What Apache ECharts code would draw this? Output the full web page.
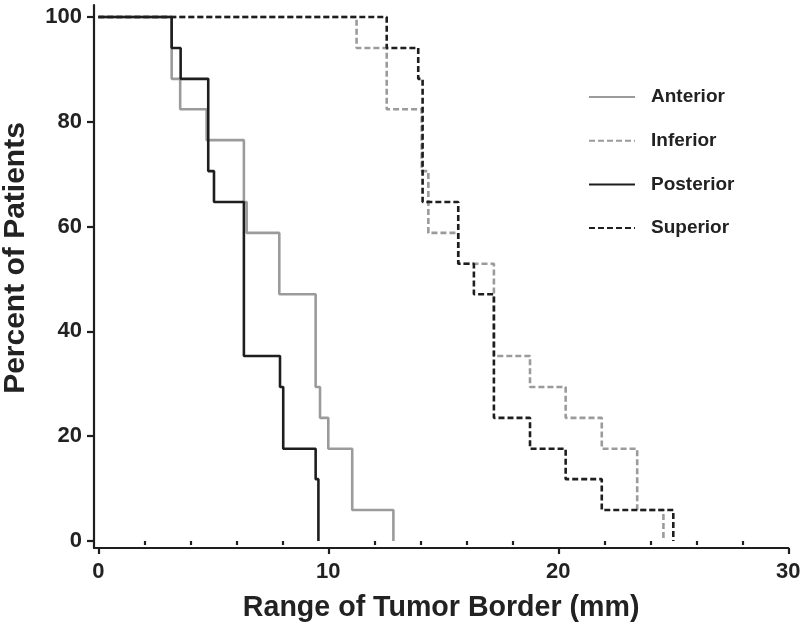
<!DOCTYPE html>
<html>
<head>
<meta charset="utf-8">
<script src="https://cdn.jsdelivr.net/npm/echarts@6/dist/echarts.min.js"></script>
<style>
html,body{margin:0;padding:0;background:#fff;}
#chart{width:800px;height:623px;}
</style>
</head>
<body>
<div id="chart"></div>
<script>
// Step-function data: x = range (mm) where value changes, y = percent of patients
var seriesNames = ['Anterior', 'Inferior', 'Posterior', 'Superior'];

var anteriorX = [0, 3.19, 3.56, 4.71, 6.33, 6.45, 7.87, 9.45, 9.64, 10.0, 11.04, 12.83];
var anteriorY = [100, 88.2, 82.4, 76.5, 64.7, 58.8, 47.1, 29.4, 23.5, 17.6, 5.9, 0];

var inferiorX = [0, 11.23, 12.54, 14.06, 14.35, 15.65, 17.2, 18.77, 20.32, 21.89, 23.43, 24.57];
var inferiorY = [100, 94.1, 82.4, 70.6, 58.8, 52.9, 35.3, 29.4, 23.5, 17.6, 5.9, 0];

var posteriorX = [0, 3.19, 3.58, 4.78, 5.03, 6.33, 7.9, 8.04, 9.45, 9.57];
var posteriorY = [100, 94.1, 88.2, 70.6, 64.7, 35.3, 29.4, 17.6, 11.8, 0];

var superiorX = [0, 12.54, 13.91, 14.1, 15.65, 16.33, 17.2, 18.77, 20.32, 21.89, 25.0];
var superiorY = [100, 94.1, 88.2, 64.7, 52.9, 47.1, 23.5, 17.6, 11.8, 5.9, 0];

var xTicks = [0, 10, 20, 30];
var xMinorTicks = [2, 4, 6, 8, 12, 14, 16, 18, 22, 24, 26, 28];
var yTicks = [0, 20, 40, 60, 80, 100];

function pairs(xs, ys) {
  return xs.map(function (x, i) { return [x, ys[i]]; });
}

var GRAY = '#9b9b9b';
var BLACK = '#1e1e1e';
var FONT = '"Liberation Sans", Arial, Helvetica, sans-serif';

function mk(name, xs, ys, color, dashed) {
  return {
    name: name,
    type: 'line',
    step: 'end',
    xAxisIndex: 0,
    yAxisIndex: 0,
    data: pairs(xs, ys),
    symbol: 'none',
    showSymbol: false,
    silent: true,
    animation: false,
    lineStyle: { color: color, width: 2.6, type: dashed ? [6, 3] : 'solid' },
    itemStyle: { color: color }
  };
}

var xMin = -0.187, xMax = 30;
var yMin = -1.34, yMax = 102.3;

var chart = echarts.init(document.getElementById('chart'), null, { renderer: 'canvas' });
chart.setOption({
  animation: false,
  backgroundColor: '#ffffff',
  grid: { left: 94, right: 11.7, top: 5, bottom: 75, containLabel: false, outerBoundsMode: 'none' },
  legend: {
    orient: 'vertical',
    left: 583,
    top: 82.5,
    itemWidth: 46,
    itemHeight: 12,
    itemGap: 24.7,
    data: seriesNames,
    itemStyle: { opacity: 0 },
    textStyle: { fontFamily: FONT, fontWeight: 'bold', fontSize: 19, color: '#222', padding: [0, 0, 0, 11] }
  },
  xAxis: [{
    type: 'value',
    min: xMin,
    max: xMax,
    name: 'Range of Tumor Border (mm)',
    nameLocation: 'middle',
    nameGap: 46,
    nameTextStyle: { fontFamily: FONT, fontWeight: 'bold', fontSize: 28.6, color: '#222' },
    axisLine: { show: true, onZero: false, lineStyle: { color: BLACK, width: 2.2 } },
    axisTick: { show: true, customValues: xTicks, length: 6, lineStyle: { color: BLACK, width: 2.2 } },
    splitLine: { show: false },
    axisLabel: { customValues: xTicks, fontFamily: FONT, fontWeight: 'bold', fontSize: 22, color: '#222', margin: 13 }
  }, {
    type: 'value',
    min: xMin,
    max: xMax,
    position: 'bottom',
    axisLine: { show: false },
    axisTick: { show: true, customValues: xMinorTicks, length: 4, lineStyle: { color: BLACK, width: 2.2 } },
    splitLine: { show: false },
    axisLabel: { show: false }
  }],
  yAxis: {
    type: 'value',
    min: yMin,
    max: yMax,
    name: 'Percent of Patients',
    nameLocation: 'middle',
    nameGap: 63,
    nameTextStyle: { fontFamily: FONT, fontWeight: 'bold', fontSize: 30, color: '#222', padding: [0, 0, 0, 37] },
    axisLine: { show: true, onZero: false, lineStyle: { color: BLACK, width: 2.2 } },
    axisTick: { show: true, customValues: yTicks, length: 7, lineStyle: { color: BLACK, width: 2.2 } },
    splitLine: { show: false },
    axisLabel: { customValues: yTicks, fontFamily: FONT, fontWeight: 'bold', fontSize: 22, color: '#222', margin: 12 }
  },
  series: [
    mk('Anterior', anteriorX, anteriorY, GRAY, false),
    mk('Inferior', inferiorX, inferiorY, GRAY, true),
    mk('Posterior', posteriorX, posteriorY, BLACK, false),
    mk('Superior', superiorX, superiorY, BLACK, true)
  ]
});
</script>
</body>
</html>
